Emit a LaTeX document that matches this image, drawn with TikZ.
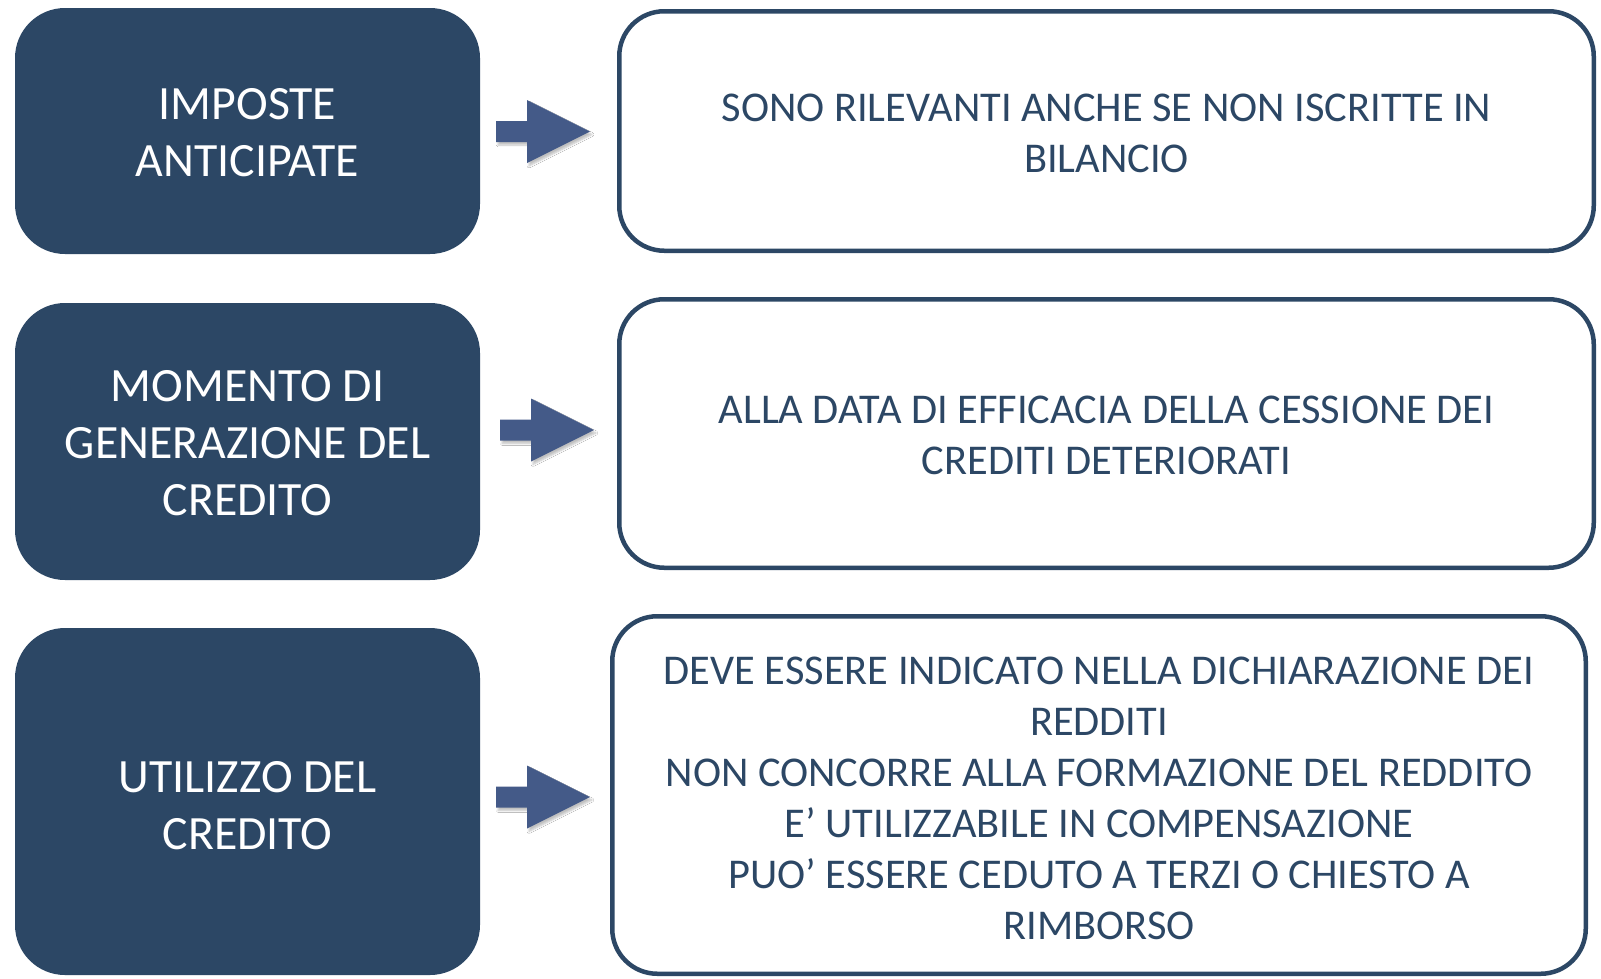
\documentclass[tikz,border=0pt]{standalone}
\usepackage{fontspec}
\setmainfont{Carlito}
\usetikzlibrary{shadows.blur}
\definecolor{darkbox}{HTML}{2C4765}
\definecolor{arrowcol}{HTML}{445A88}
\newcommand{\topstrut}[1]{\rule{0pt}{#1pt}}
\tikzset{
  leftbox/.style={fill=darkbox, draw=none, rounded corners=50pt, text=white,
    font=\fontsize{47.8}{57}\selectfont, align=center, inner sep=0pt},
  rightbox/.style={fill=white, draw=darkbox, line width=4.5pt, rounded corners=45pt, text=darkbox,
    font=\fontsize{42.4}{51}\selectfont, align=center, inner sep=0pt},
  blockarrow/.style={fill=arrowcol, blur shadow={shadow xshift=2pt, shadow yshift=-3pt, shadow blur steps=6, shadow opacity=25}}
}
\newcommand{\barrow}[1]{%
  \path[blockarrow] (#1) ++(0,-10.5) -- ++(31,0) -- ++(0,-21) -- ++(63,31.5) -- ++(-63,31.5) -- ++(0,-21) -- ++(-31,0) -- cycle;}
\begin{document}
\begin{tikzpicture}[x=1pt,y=-1pt]
\useasboundingbox[fill=white] (0,0) rectangle (1601,978);
\node[leftbox, minimum width=465pt, minimum height=246pt] (l1) at (247.5,131) {\topstrut{34}IMPOSTE\\ANTICIPATE};
\node[leftbox, minimum width=465pt, minimum height=277pt] (l2) at (247.5,441.5) {\topstrut{34}MOMENTO DI\\GENERAZIONE DEL\\CREDITO};
\node[leftbox, minimum width=465pt, minimum height=347pt] (l3) at (247.5,801.5) {\topstrut{40}UTILIZZO DEL\\CREDITO};
\node[rightbox, minimum width=974.5pt, minimum height=239.5pt] (r1) at (1106.5,131) {\topstrut{32}SONO RILEVANTI ANCHE SE NON ISCRITTE IN\\BILANCIO};
\node[rightbox, minimum width=974.5pt, minimum height=268.5pt] (r2) at (1106.5,433.5) {\topstrut{32}ALLA DATA DI EFFICACIA DELLA CESSIONE DEI\\CREDITI DETERIORATI};
\node[rightbox, minimum width=973.5pt, minimum height=357.5pt] (r3) at (1099,795) {\topstrut{34}DEVE ESSERE INDICATO NELLA DICHIARAZIONE DEI\\REDDITI\\NON CONCORRE ALLA FORMAZIONE DEL REDDITO\\E’ UTILIZZABILE IN COMPENSAZIONE\\PUO’ ESSERE CEDUTO A TERZI O CHIESTO A\\RIMBORSO};
\coordinate (a1) at (496,131.5);
\coordinate (a2) at (500,430);
\coordinate (a3) at (496,797);
\barrow{a1}
\barrow{a2}
\barrow{a3}
\end{tikzpicture}
\end{document}
